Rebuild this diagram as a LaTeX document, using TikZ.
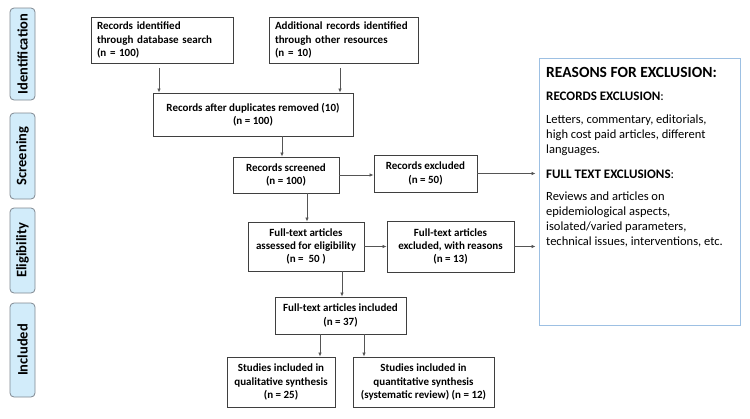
\documentclass[tikz,border=0pt]{standalone}
\usepackage{fontspec}
\setmainfont{Carlito}
\usetikzlibrary{arrows.meta}
\definecolor{boxline}{HTML}{3F3F3F}
\definecolor{arrcol}{HTML}{555555}
\definecolor{sidefill}{HTML}{D2ECFA}
\definecolor{sideline}{HTML}{7F8790}
\definecolor{reasonline}{HTML}{9DC0E3}
\begin{document}
\begin{tikzpicture}[x=1pt,y=-1pt,
  box/.style={draw=boxline, line width=0.9pt, fill=white, inner sep=0pt, align=center,
    font=\bfseries\fontsize{11}{13.3}\selectfont},
  lbox/.style={box, align=left, inner xsep=6pt},
  side/.style={draw=sideline, fill=sidefill, rounded corners=4pt, line width=0.8pt,
    inner sep=0pt, rotate=90, font=\bfseries\fontsize{14.5}{16}\selectfont},
  arr/.style={draw=arrcol, line width=0.7pt, -{Latex[length=4pt,width=3.5pt]}},
  rtext/.style={anchor=base west, inner sep=0pt, font=\fontsize{12.5}{15}\selectfont},
  rhead/.style={rtext, font=\fontsize{13}{15}\selectfont}]
\useasboundingbox (0,0) rectangle (750,418);

% side labels
\node[side, minimum width=92pt, minimum height=25pt] (sid) at (22.5,54) {Identification};
\node[side, minimum width=86pt, minimum height=25pt] (sscr) at (22.5,156) {Screening};
\node[side, minimum width=85pt, minimum height=25pt] (selg) at (22.5,250.5) {Eligibility};
\node[side, minimum width=94pt, minimum height=25pt] (sinc) at (22.5,350) {Included};

% boxes
\node[lbox, text width=130pt, minimum height=46pt] (rid) at (162,40)
  {Records identified\\through database search\\(n = 100)};
\node[lbox, text width=137pt, minimum height=46pt] (add) at (343.5,40)
  {Additional records identified\\through other resources\\(n = 10)};
\node[box, minimum width=200pt, minimum height=43pt] (dup) at (253,114.5)
  {Records after duplicates removed (10)\\(n = 100)};
\node[box, minimum width=106pt, minimum height=36pt] (scr) at (286,175)
  {Records screened\\(n = 100)};
\node[box, minimum width=103pt, minimum height=37pt] (exc) at (425.5,173.5)
  {Records excluded\\(n = 50)};
\node[box, minimum width=116pt, minimum height=49pt] (fta) at (306,246.5)
  {Full-text articles\\assessed for eligibility\\(n =\ \ 50 )};
\node[box, minimum width=127pt, minimum height=51pt] (fte) at (450.5,246.5)
  {Full-text articles\\excluded, with reasons\\(n = 13)};
\node[box, minimum width=131pt, minimum height=37pt] (inc) at (340.5,315.5)
  {Full-text articles included\\(n = 37)};
\node[box, minimum width=108pt, minimum height=50pt] (qual) at (281,382)
  {Studies included in\\qualitative synthesis\\(n = 25)};
\node[box, minimum width=141pt, minimum height=50pt] (quant) at (423.5,382)
  {Studies included in\\quantitative synthesis\\(systematic review) (n = 12)};

% reasons box
\node[draw=reasonline, line width=1pt, minimum width=201pt, minimum height=267pt, inner sep=0pt] (reasons) at (639.5,191.5) {};
\node[rtext, font=\bfseries\fontsize{15.5}{18}\selectfont] (r0) at (546,77) {REASONS FOR EXCLUSION:};
\node[rhead] (r1) at (546,100) {\textbf{RECORDS EXCLUSION}:};
\node[rtext] (r2) at (546,123) {Letters, commentary, editorials,};
\node[rtext] (r3) at (546,138) {high cost paid articles, different};
\node[rtext] (r4) at (546,153) {languages.};
\node[rhead] (r5) at (546,178) {\textbf{FULL TEXT EXCLUSIONS}:};
\node[rtext] (r6) at (546,200) {Reviews and articles on};
\node[rtext] (r7) at (546,215) {epidemiological aspects,};
\node[rtext] (r8) at (546,230) {isolated/varied parameters,};
\node[rtext] (r9) at (546,245) {technical issues, interventions, etc.};

% arrows
\draw[arr, shorten <=5pt] ([xshift=-3pt]rid.south) -- ([xshift=-3pt]rid.south |- dup.north);
\draw[arr, shorten <=5pt] ([xshift=-3.5pt]add.south) -- ([xshift=-3.5pt]add.south |- dup.north);
\draw[arr] ([xshift=-4pt]scr.north |- dup.south) -- ([xshift=-4pt]scr.north);
\draw[arr] (scr.east) -- (exc.west |- scr.east);
\draw[arr, shorten >=3pt] (exc.east) -- (reasons.west |- exc.east);
\draw[arr] ([xshift=1pt]fta.north |- scr.south) -- ([xshift=1pt]fta.north);
\draw[arr] (fta.east) -- (fte.west |- fta.east);
\draw[arr, shorten >=3pt] (fte.east) -- (reasons.west |- fte.east);
\draw[arr] ([xshift=1.5pt]inc.north |- fta.south) -- ([xshift=1.5pt]inc.north);
\draw[arr] ([xshift=-20.5pt]inc.south) -- ([xshift=-20.5pt]inc.south |- qual.north);
\draw[arr] ([xshift=23.5pt]inc.south) -- ([xshift=23.5pt]inc.south |- quant.north);
\end{tikzpicture}
\end{document}
